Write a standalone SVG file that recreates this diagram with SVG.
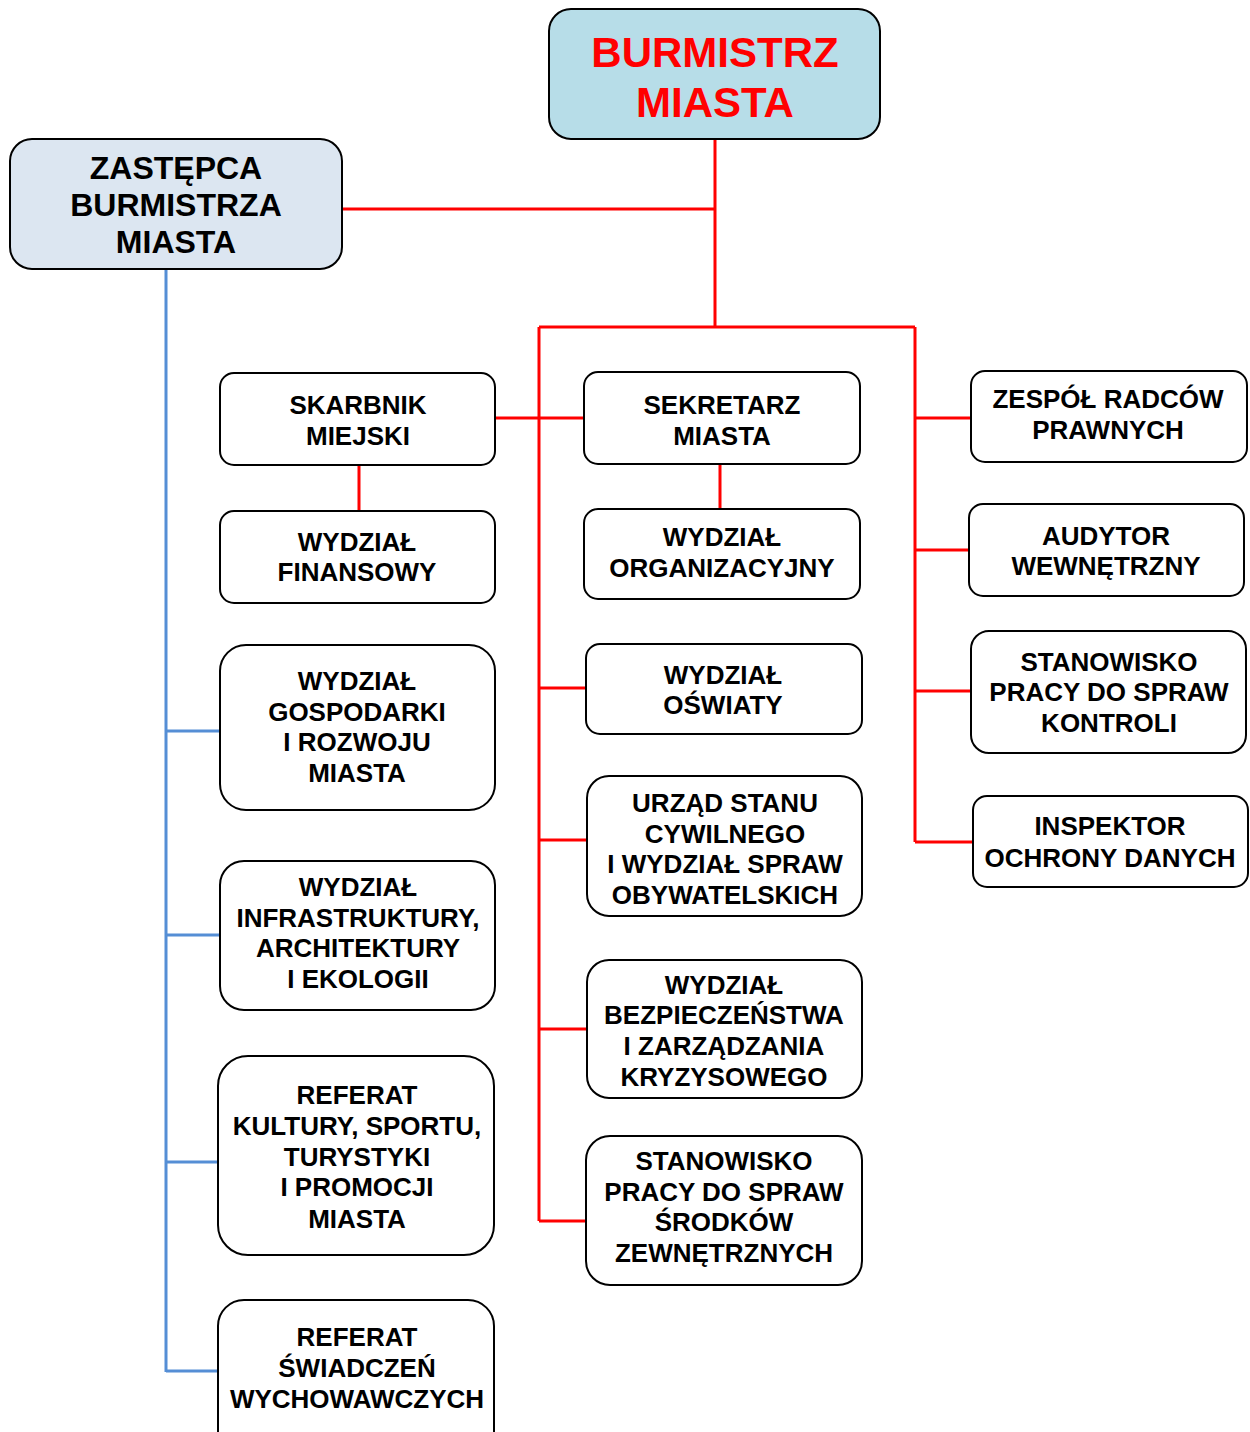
<svg xmlns="http://www.w3.org/2000/svg" width="1250" height="1432" viewBox="0 0 1250 1432">
<style>
.box{fill:#ffffff;stroke:#000000;stroke-width:2}
.t{font-family:"Liberation Sans",Arial,sans-serif;font-weight:bold;font-size:26px;fill:#000000;text-anchor:middle}
.top{font-size:42px;fill:#ff0000}
.dep{font-size:32px}
.red{stroke:#ff0000;stroke-width:3;fill:none}
.blue{stroke:#558ed5;stroke-width:3;fill:none}
</style>
<rect width="1250" height="1432" fill="#ffffff"/>
<g id="connectors">
<path class="red" d="M715 139V327M342 209H715M539 327H915M539 327V1221M915 327V842"/>
<path class="red" d="M495 418H584M359 465V511M720 464V509"/>
<path class="red" d="M915 418H971M915 550H969M915 691H971M915 842H973"/>
<path class="red" d="M539 688H586M539 840H587M539 1029H587M539 1221H586"/>
<path class="blue" d="M166 269V1372M166 731H220M166 935H220M166 1162H218M166 1371H218"/>
</g>
<g id="burmistrz">
<rect x="549" y="9" width="331" height="130" rx="22" fill="#b7dde8" stroke="#000" stroke-width="2"/>
<text class="t top" x="715" y="67">BURMISTRZ</text>
<text class="t top" x="715" y="117">MIASTA</text>
</g>
<g id="zastepca">
<rect x="10" y="139" width="332" height="130" rx="22" fill="#dce6f1" stroke="#000" stroke-width="2"/>
<text class="t dep" x="176" y="179">ZASTĘPCA</text>
<text class="t dep" x="176" y="216">BURMISTRZA</text>
<text class="t dep" x="176" y="253">MIASTA</text>
</g>
<g id="skarbnik">
<rect class="box" x="220" y="373" width="275" height="92" rx="14"/>
<text class="t" x="358" y="414">SKARBNIK</text>
<text class="t" x="358" y="445">MIEJSKI</text>
</g>
<g id="sekretarz">
<rect class="box" x="584" y="372" width="276" height="92" rx="14"/>
<text class="t" x="722" y="414">SEKRETARZ</text>
<text class="t" x="722" y="445">MIASTA</text>
</g>
<g id="finansowy">
<rect class="box" x="220" y="511" width="275" height="92" rx="14"/>
<text class="t" x="357" y="551">WYDZIAŁ</text>
<text class="t" x="357" y="581">FINANSOWY</text>
</g>
<g id="organizacyjny">
<rect class="box" x="584" y="509" width="276" height="90" rx="14"/>
<text class="t" x="722" y="546">WYDZIAŁ</text>
<text class="t" x="722" y="577">ORGANIZACYJNY</text>
</g>
<g id="radcy">
<rect class="box" x="971" y="371" width="276" height="91" rx="14"/>
<text class="t" x="1108" y="408">ZESPÓŁ RADCÓW</text>
<text class="t" x="1108" y="439">PRAWNYCH</text>
</g>
<g id="audytor">
<rect class="box" x="969" y="504" width="275" height="92" rx="14"/>
<text class="t" x="1106" y="545">AUDYTOR</text>
<text class="t" x="1106" y="575">WEWNĘTRZNY</text>
</g>
<g id="kontrola">
<rect class="box" x="971" y="631" width="275" height="122" rx="18"/>
<text class="t" x="1109" y="671">STANOWISKO</text>
<text class="t" x="1109" y="701">PRACY DO SPRAW</text>
<text class="t" x="1109" y="732">KONTROLI</text>
</g>
<g id="inspektor">
<rect class="box" x="973" y="796" width="275" height="91" rx="14"/>
<text class="t" x="1110" y="835">INSPEKTOR</text>
<text class="t" x="1110" y="867">OCHRONY DANYCH</text>
</g>
<g id="oswiata">
<rect class="box" x="586" y="644" width="276" height="90" rx="14"/>
<text class="t" x="723" y="684">WYDZIAŁ</text>
<text class="t" x="723" y="714">OŚWIATY</text>
</g>
<g id="usc">
<rect class="box" x="587" y="776" width="275" height="140" rx="22"/>
<text class="t" x="725" y="812">URZĄD STANU</text>
<text class="t" x="725" y="843">CYWILNEGO</text>
<text class="t" x="725" y="873">I WYDZIAŁ SPRAW</text>
<text class="t" x="725" y="904">OBYWATELSKICH</text>
</g>
<g id="bezpieczenstwo">
<rect class="box" x="587" y="960" width="275" height="138" rx="22"/>
<text class="t" x="724" y="994">WYDZIAŁ</text>
<text class="t" x="724" y="1024">BEZPIECZEŃSTWA</text>
<text class="t" x="724" y="1055">I ZARZĄDZANIA</text>
<text class="t" x="724" y="1086">KRYZYSOWEGO</text>
</g>
<g id="srodki">
<rect class="box" x="586" y="1136" width="276" height="149" rx="24"/>
<text class="t" x="724" y="1170">STANOWISKO</text>
<text class="t" x="724" y="1201">PRACY DO SPRAW</text>
<text class="t" x="724" y="1231">ŚRODKÓW</text>
<text class="t" x="724" y="1262">ZEWNĘTRZNYCH</text>
</g>
<g id="gospodarka">
<rect class="box" x="220" y="645" width="275" height="165" rx="26"/>
<text class="t" x="357" y="690">WYDZIAŁ</text>
<text class="t" x="357" y="721">GOSPODARKI</text>
<text class="t" x="357" y="751">I ROZWOJU</text>
<text class="t" x="357" y="782">MIASTA</text>
</g>
<g id="infrastruktura">
<rect class="box" x="220" y="861" width="275" height="149" rx="24"/>
<text class="t" x="358" y="896">WYDZIAŁ</text>
<text class="t" x="358" y="927">INFRASTRUKTURY,</text>
<text class="t" x="358" y="957">ARCHITEKTURY</text>
<text class="t" x="358" y="988">I EKOLOGII</text>
</g>
<g id="kultura">
<rect class="box" x="218" y="1056" width="276" height="199" rx="30"/>
<text class="t" x="357" y="1104">REFERAT</text>
<text class="t" x="357" y="1135">KULTURY, SPORTU,</text>
<text class="t" x="357" y="1166">TURYSTYKI</text>
<text class="t" x="357" y="1196">I PROMOCJI</text>
<text class="t" x="357" y="1228">MIASTA</text>
</g>
<g id="swiadczenia">
<rect class="box" x="218" y="1300" width="276" height="160" rx="26"/>
<text class="t" x="357" y="1346">REFERAT</text>
<text class="t" x="357" y="1377">ŚWIADCZEŃ</text>
<text class="t" x="357" y="1408">WYCHOWAWCZYCH</text>
</g>
</svg>
